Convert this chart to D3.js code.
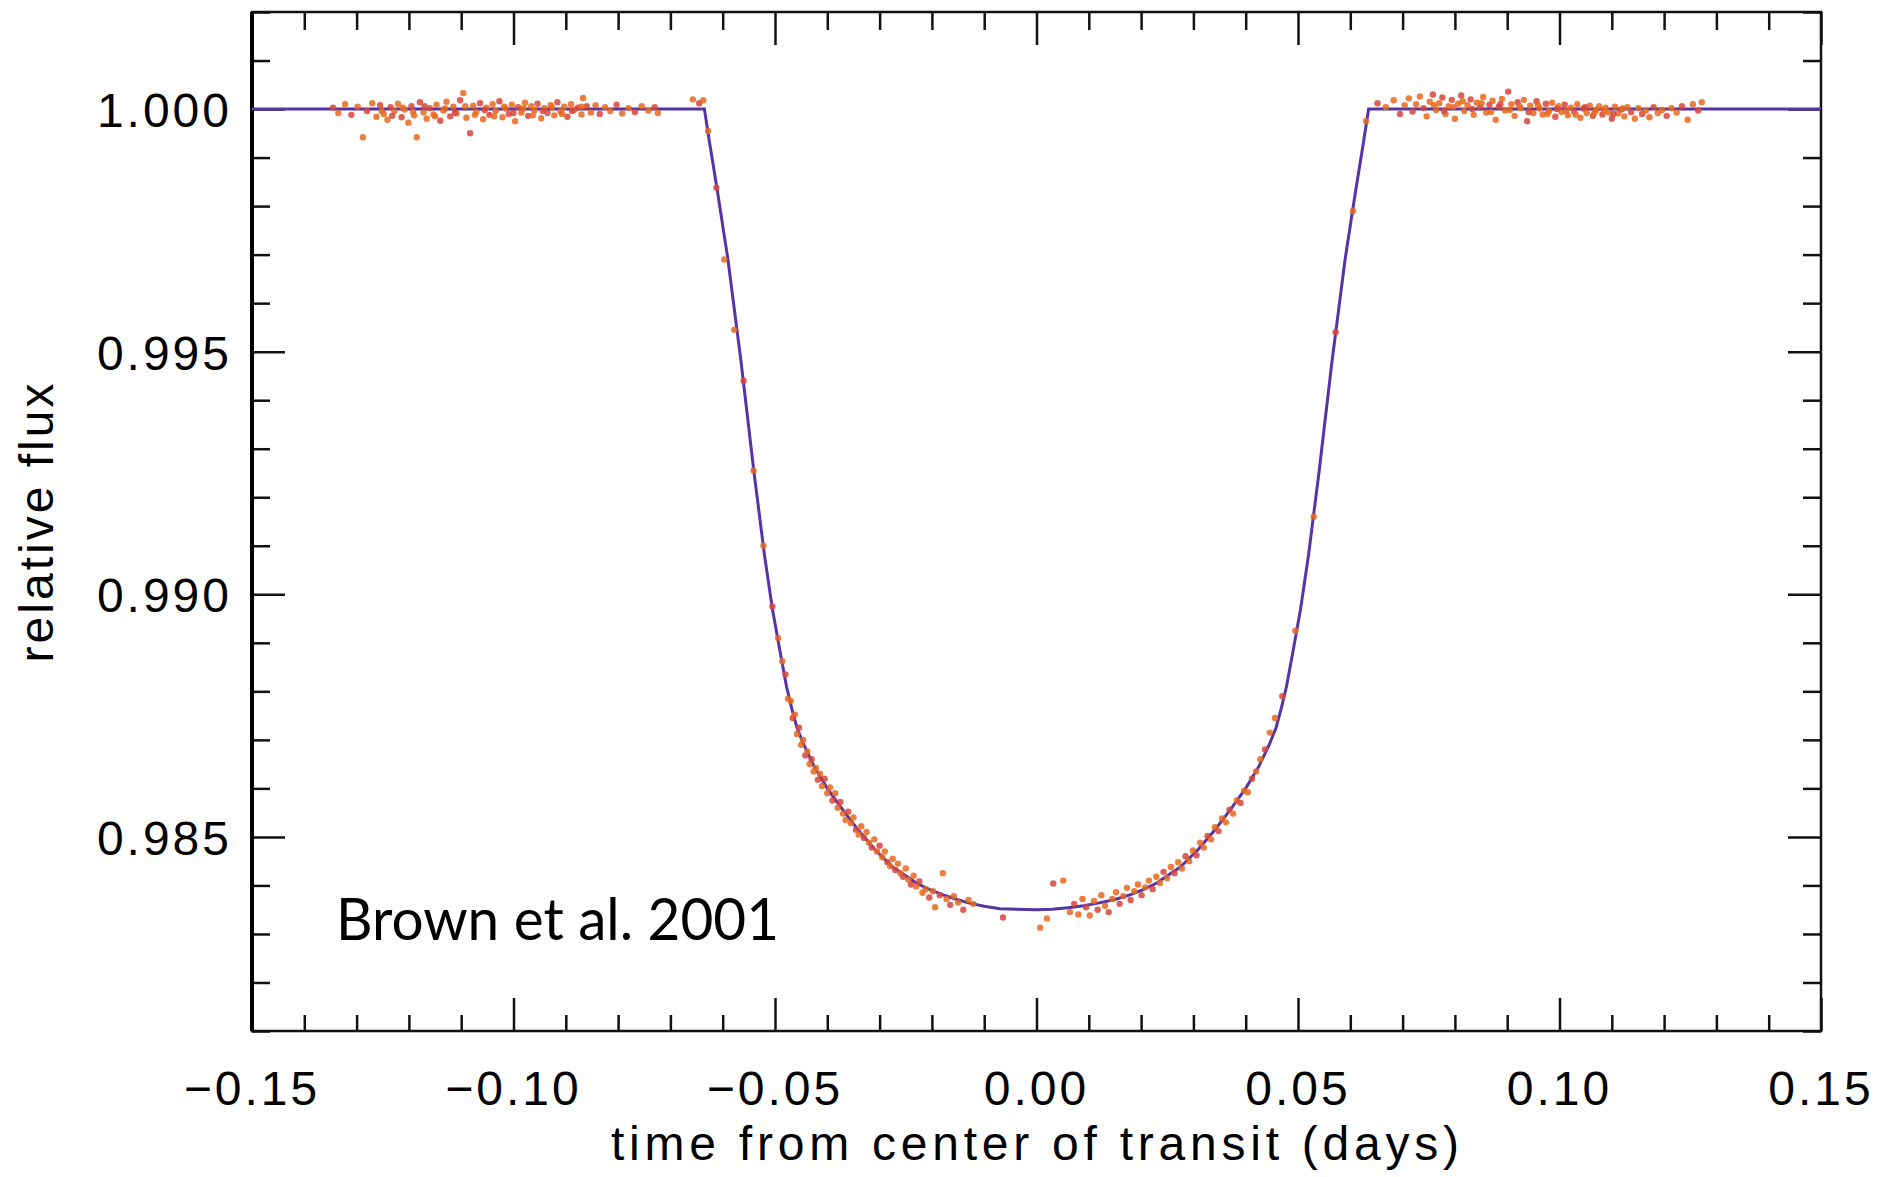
<!DOCTYPE html>
<html><head><meta charset="utf-8">
<script src="https://cdn.jsdelivr.net/npm/d3@7"></script>
<style>
html,body{margin:0;padding:0;background:#fff;}
svg{display:block;}
.tl{font-family:"Liberation Sans",Arial,sans-serif;font-size:48px;letter-spacing:3px;fill:#000;}
</style></head><body>
<svg id="c" width="1892" height="1177"></svg>
<script>
// ---------- data ----------
const xTickValues = [-0.15, -0.10, -0.05, 0.00, 0.05, 0.10, 0.15];
const xTickLabels = ["\u22120.15", "\u22120.10", "\u22120.05", "0.00", "0.05", "0.10", "0.15"];
const yTickValues = [1.000, 0.995, 0.990, 0.985];
const yTickLabels = ["1.000", "0.995", "0.990", "0.985"];
const xLabel = "time from center of transit (days)";
const yLabel = "relative flux";
const annotation = "Brown et al. 2001";

// model light curve (time, relative flux)
const modelTime = [-0.1500, -0.0635, -0.0625, -0.0610, -0.0590, -0.0565, -0.0540, -0.0520, -0.0505, -0.0490, -0.0478,
  -0.0468, -0.0458, -0.0445, -0.0425, -0.0400, -0.0370, -0.0340, -0.0310, -0.0275, -0.0250, -0.0230, -0.0205, -0.0180, -0.0155, -0.0130, -0.0100, -0.0070, 0.0000,
  0.0030, 0.0060, 0.0090, 0.0120, 0.0150, 0.0180, 0.0205, 0.0230, 0.0250, 0.0275, 0.0310, 0.0340, 0.0370, 0.0400, 0.0425, 0.0445, 0.0458, 0.0468,
  0.0478, 0.0490, 0.0505, 0.0520, 0.0540, 0.0565, 0.0590, 0.0610, 0.0625, 0.0635, 0.1500];
const modelFlux = [1.0000, 1.0000, 0.9993, 0.9983, 0.9969, 0.9948, 0.9925, 0.9908, 0.9897, 0.9888, 0.9881,
  0.98765, 0.98725, 0.98690, 0.98645, 0.98600, 0.98555, 0.98513, 0.98475, 0.98438, 0.98420, 0.98405, 0.98392, 0.98381, 0.98372, 0.98364, 0.98357, 0.98352, 0.98350,
  0.98351, 0.98354, 0.98358, 0.98364, 0.98371, 0.98381, 0.98392, 0.98405, 0.98420, 0.98438, 0.98475, 0.98513, 0.98555, 0.98600, 0.98645, 0.98690, 0.98725, 0.98765,
  0.9881, 0.9888, 0.9897, 0.9908, 0.9925, 0.9948, 0.9969, 0.9983, 0.9993, 1.0000, 1.0000];

// observed points [time, flux]
const preTransit = [
 [-0.1345,1.00003],[-0.1335,0.99992],[-0.1322,1.00010],[-0.1310,0.99988],[-0.1298,1.00005],[-0.1288,0.99942],
 [-0.1280,0.99996],[-0.1270,1.00012],[-0.1262,0.99984],[-0.1255,1.00008],[-0.1248,0.99990],[-0.1241,0.99978],
 [-0.1235,1.00004],[-0.1228,0.99995],[-0.1221,1.00011],[-0.1214,0.99983],[-0.1208,0.99999],[-0.1201,0.99972],
 [-0.1195,1.00006],[-0.1190,0.99987],[-0.1185,0.99942],[-0.1179,1.00014],[-0.1172,0.99993],[-0.1166,0.99980],
 [-0.1160,1.00002],[-0.1153,0.99989],[-0.1147,1.00009],[-0.1140,0.99976],[-0.1134,0.99997],[-0.1128,1.00015],
 [-0.1121,0.99985],[-0.1115,1.00005],[-0.1109,0.99991],[-0.1102,1.00018],[-0.1096,1.00033],[-0.1090,0.99982],
 [-0.1083,0.99950],[-0.1077,1.00007],[-0.1071,0.99994],[-0.1064,1.00012],[-0.1058,0.99979],[-0.1052,1.00003],
 [-0.1046,0.99988],[-0.1040,1.00010],[-0.1034,0.99996],[-0.1027,1.00016],[-0.1021,0.99983],[-0.1015,1.00001],
 [-0.1009,0.99990],[-0.1003,1.00009],[-0.0997,0.99975],[-0.0991,1.00004],[-0.0985,0.99993],[-0.0978,1.00013],
 [-0.0972,0.99986],[-0.0966,1.00006],[-0.0960,0.99997],[-0.0954,1.00011],[-0.0947,0.99981],[-0.0941,1.00002],
 [-0.0935,0.99992],[-0.0929,1.00008],[-0.0922,0.99987],[-0.0916,1.00014],[-0.0910,0.99995],[-0.0903,1.00005],
 [-0.0897,0.99984],[-0.0890,1.00010],[-0.0884,0.99998],[-0.0877,1.00003],[-0.0870,0.99989],[-0.0867,1.00023],
 [-0.0860,1.00006],[-0.0852,0.99993],[-0.0843,1.00008],[-0.0835,0.99990],[-0.0825,1.00004],[-0.0815,0.99996],
 [-0.0803,1.00009],[-0.0792,0.99991],[-0.0780,1.00002],[-0.0768,0.99994],[-0.0755,1.00006],[-0.0742,0.99997],
 [-0.0730,1.00004],[-0.0724,0.99992],[-0.0657,1.00020],[-0.0645,1.00012],[-0.0637,1.00018],
 [-0.1252,0.99996],[-0.1232,0.99986],[-0.1212,1.00003],[-0.1192,0.99994],[-0.1170,1.00006],[-0.1150,0.99985],
 [-0.1131,1.00001],[-0.1112,0.99993],[-0.1092,1.00006],[-0.1074,0.99988],[-0.1055,0.99998],[-0.1037,0.99985],
 [-0.1018,1.00005],[-0.1000,0.99992],[-0.0981,1.00001],[-0.0963,0.99987],[-0.0944,0.99996],[-0.0926,1.00003],
 [-0.0907,0.99990],[-0.0888,0.99996],[-0.0870,1.00005]
];
const inTransit = [
 [-0.0628,0.99955],[-0.0612,0.99838],[-0.0597,0.99690],[-0.0578,0.99545],[-0.0560,0.99440],[-0.0541,0.99255],
 [-0.0522,0.99100],[-0.0505,0.98975],[-0.0494,0.98910],
 [-0.0486,0.98862],[-0.0480,0.98835],[-0.0475,0.98785],[-0.0470,0.98780],[-0.0466,0.98745],[-0.0462,0.98752],
 [-0.0458,0.98712],[-0.0454,0.98725],[-0.0450,0.98690],[-0.0446,0.98700],[-0.0442,0.98668],[-0.0438,0.98676],
 [-0.0434,0.98650],[-0.0430,0.98660],[-0.0426,0.98635],[-0.0422,0.98642],[-0.0418,0.98618],[-0.0414,0.98630],
 [-0.0410,0.98605],[-0.0405,0.98620],[-0.0400,0.98590],[-0.0395,0.98602],[-0.0390,0.98575],[-0.0385,0.98590],
 [-0.0380,0.98560],[-0.0375,0.98572],[-0.0370,0.98548],[-0.0365,0.98535],[-0.0360,0.98552],[-0.0355,0.98528],
 [-0.0350,0.98540],[-0.0345,0.98515],[-0.0340,0.98505],[-0.0335,0.98522],[-0.0330,0.98498],[-0.0325,0.98510],
 [-0.0320,0.98488],[-0.0315,0.98478],[-0.0310,0.98495],[-0.0305,0.98470],[-0.0300,0.98482],[-0.0295,0.98458],
 [-0.0290,0.98470],[-0.0285,0.98448],[-0.0280,0.98440],[-0.0275,0.98455],[-0.0270,0.98432],[-0.0265,0.98445],
 [-0.0260,0.98425],[-0.0255,0.98418],[-0.0250,0.98435],[-0.0245,0.98412],[-0.0240,0.98402],[-0.0235,0.98420],
 [-0.0230,0.98398],[-0.0224,0.98408],[-0.0218,0.98385],[-0.0212,0.98392],[-0.0205,0.98375],[-0.0198,0.98388],
 [-0.0194,0.98355],[-0.0185,0.98380],[-0.0179,0.98425],[-0.0172,0.98372],[-0.0165,0.98360],[-0.0158,0.98378],
 [-0.0150,0.98365],[-0.0140,0.98350],[-0.0130,0.98370],[-0.0121,0.98362],[-0.0064,0.98334],
 [0.0007,0.98313],[0.0020,0.98332],[0.0032,0.98404],[0.0051,0.98410],[0.0064,0.98345],[0.0072,0.98362],
 [0.0080,0.98340],[0.0088,0.98372],[0.0095,0.98355],[0.0102,0.98338],[0.0110,0.98368],[0.0117,0.98350],
 [0.0124,0.98380],[0.0131,0.98358],[0.0138,0.98345],[0.0145,0.98372],[0.0152,0.98386],[0.0159,0.98362],
 [0.0166,0.98378],[0.0173,0.98395],[0.0180,0.98370],[0.0187,0.98388],[0.0194,0.98402],[0.0201,0.98380],
 [0.0208,0.98396],[0.0215,0.98410],[0.0222,0.98392],[0.0229,0.98418],[0.0236,0.98405],[0.0243,0.98428],
 [0.0250,0.98415],[0.0257,0.98438],[0.0264,0.98425],[0.0271,0.98448],[0.0278,0.98435],[0.0285,0.98460],
 [0.0292,0.98450],[0.0299,0.98472],[0.0306,0.98462],[0.0313,0.98488],[0.0320,0.98478],[0.0327,0.98502],
 [0.0334,0.98495],[0.0341,0.98520],[0.0348,0.98512],[0.0355,0.98538],[0.0362,0.98530],[0.0369,0.98556],
 [0.0376,0.98548],[0.0383,0.98575],[0.0390,0.98570],[0.0397,0.98595],[0.0404,0.98592],[0.0412,0.98620],
 [0.0420,0.98635],[0.0428,0.98660],[0.0437,0.98680],[0.0446,0.98715],[0.0456,0.98745],
 [0.0470,0.98790],[0.0495,0.98925],[0.0530,0.99160],[0.0572,0.99540],[0.0605,0.99790],[0.0630,0.99975]
];
const postTransit = [
 [0.0652,1.00012],[0.0668,1.00004],[0.0683,1.00018],[0.0695,0.99990],[0.0704,1.00008],[0.0712,1.00022],
 [0.0719,0.99995],[0.0726,1.00010],[0.0733,1.00026],[0.0740,1.00002],[0.0746,0.99985],[0.0752,1.00015],
 [0.0758,1.00030],[0.0764,0.99998],[0.0770,1.00012],[0.0776,1.00024],[0.0782,0.99990],[0.0788,1.00006],
 [0.0794,1.00019],[0.0800,0.99980],[0.0806,1.00011],[0.0812,1.00028],[0.0818,0.99996],[0.0824,1.00008],
 [0.0830,1.00020],[0.0836,0.99988],[0.0842,1.00013],[0.0848,1.00003],[0.0854,1.00025],[0.0860,0.99993],
 [0.0866,1.00009],[0.0872,1.00017],[0.0878,0.99978],[0.0884,1.00005],[0.0890,1.00021],[0.0896,0.99997],
 [0.0902,1.00036],[0.0908,1.00010],[0.0914,0.99986],[0.0920,1.00014],[0.0926,1.00002],[0.0932,1.00019],
 [0.0938,0.99975],[0.0944,1.00007],[0.0950,0.99992],[0.0956,1.00016],[0.0962,1.00001],[0.0968,0.99989],
 [0.0974,1.00011],[0.0980,0.99996],[0.0986,1.00013],[0.0992,0.99984],[0.0998,1.00006],[0.1004,0.99994],
 [0.1010,1.00009],[0.1016,0.99987],[0.1022,1.00003],[0.1028,0.99995],[0.1034,1.00010],[0.1040,0.99982],
 [0.1046,1.00001],[0.1052,0.99992],[0.1058,1.00007],[0.1064,0.99986],[0.1070,0.99998],[0.1076,1.00006],
 [0.1082,0.99989],[0.1088,1.00003],[0.1094,0.99993],[0.1100,0.99980],[0.1106,1.00005],[0.1112,0.99991],
 [0.1118,0.99999],[0.1124,0.99985],[0.1130,1.00004],[0.1137,0.99994],[0.1144,0.99980],[0.1151,1.00002],
 [0.1158,0.99990],[0.1165,0.99997],[0.1172,0.99983],[0.1180,1.00004],[0.1188,0.99992],[0.1196,0.99998],
 [0.1205,0.99986],[0.1214,1.00002],[0.1224,0.99993],[0.1234,1.00006],[0.1245,0.99978],[0.1255,1.00010],
 [0.1265,0.99997],[0.1272,1.00014],
 [0.0760,1.00008],[0.0779,0.99996],[0.0797,1.00004],[0.0815,1.00016],[0.0833,1.00000],[0.0851,1.00012],
 [0.0869,0.99994],[0.0887,1.00010],[0.0905,0.99998],[0.0923,1.00006],[0.0941,0.99994],[0.0959,1.00008],
 [0.0977,0.99990],[0.0995,1.00000],[0.1013,0.99996],[0.1031,0.99988],[0.1049,1.00004],[0.1067,0.99993],
 [0.1085,0.99997],[0.1103,0.99990],[0.1121,1.00001]
];

// ---------- layout ----------
const L = 252, R = 1821, T = 12, B = 1031;
const svg = d3.select("#c");
const x = d3.scaleLinear().domain([-0.15, 0.15]).range([L, R]);
const y = d3.scaleLinear().domain([0.981, 1.002]).range([B, T]);

const xMinor = d3.range(-15, 16).map(d => d / 100).filter(v => !xTickValues.some(m => Math.abs(m - v) < 1e-9));
const yMinor = d3.range(981, 1003).map(d => d / 1000).filter(v => !yTickValues.some(m => Math.abs(m - v) < 1e-9));

const tickStyle = g => { g.select(".domain").remove(); g.selectAll("line").attr("stroke", "#111").attr("stroke-width", 2.5); g.selectAll("text").remove(); };

// ticks (inward) bottom / top
svg.append("g").attr("transform", `translate(0,${B})`).call(d3.axisBottom(x).tickValues(xMinor).tickSize(-16).tickFormat("")).call(tickStyle);
svg.append("g").attr("transform", `translate(0,${B})`).call(d3.axisBottom(x).tickValues(xTickValues).tickSize(-33).tickFormat("")).call(tickStyle);
svg.append("g").attr("transform", `translate(0,${T})`).call(d3.axisTop(x).tickValues(xMinor).tickSize(-18).tickFormat("")).call(tickStyle);
svg.append("g").attr("transform", `translate(0,${T})`).call(d3.axisTop(x).tickValues(xTickValues).tickSize(-33).tickFormat("")).call(tickStyle);
// left / right
svg.append("g").attr("transform", `translate(${L},0)`).call(d3.axisLeft(y).tickValues(yMinor).tickSize(-18).tickFormat("")).call(tickStyle);
svg.append("g").attr("transform", `translate(${L},0)`).call(d3.axisLeft(y).tickValues(yTickValues).tickSize(-33).tickFormat("")).call(tickStyle);
svg.append("g").attr("transform", `translate(${R},0)`).call(d3.axisRight(y).tickValues(yMinor).tickSize(-18).tickFormat("")).call(tickStyle);
svg.append("g").attr("transform", `translate(${R},0)`).call(d3.axisRight(y).tickValues(yTickValues).tickSize(-33).tickFormat("")).call(tickStyle);

// frame
svg.append("rect").attr("x", L).attr("y", T).attr("width", R - L).attr("height", B - T)
  .attr("fill", "none").attr("stroke", "#111").attr("stroke-width", 2.5);
svg.append("line").attr("x1", L).attr("x2", L).attr("y1", T).attr("y2", B).attr("stroke", "#000").attr("stroke-width", 4);

// tick labels
svg.append("g").selectAll("text").data(xTickValues).join("text").attr("class", "tl")
  .attr("x", d => x(d)).attr("y", 1105).attr("text-anchor", "middle").text((d, i) => xTickLabels[i]);
svg.append("g").selectAll("text").data(yTickValues).join("text").attr("class", "tl")
  .attr("x", 232).attr("y", d => y(d) + 18).attr("text-anchor", "end").text((d, i) => yTickLabels[i]);

// axis titles
svg.append("text").attr("class", "tl").attr("x", (L + R) / 2).attr("y", 1160).attr("text-anchor", "middle")
  .attr("textLength", 851).attr("lengthAdjust", "spacing").text(xLabel);
svg.append("text").attr("class", "tl").attr("transform", `translate(53,${(T + B) / 2}) rotate(-90)`).attr("text-anchor", "middle").text(yLabel);

// model line
const line = d3.line().x(d => x(d)).y((d, i) => y(modelFlux[i]));
svg.append("path").attr("d", line(modelTime)).attr("fill", "none").attr("stroke", "#5534a8").attr("stroke-width", 3);

// data points
const allPts = preTransit.concat(inTransit, postTransit);
svg.append("g").selectAll("circle").data(allPts).join("circle")
  .attr("cx", d => x(d[0])).attr("cy", d => y(d[1])).attr("r", 3.2)
  .attr("fill", (d, i) => i % 3 === 0 ? "#d8453c" : "#e8691e").attr("fill-opacity", 0.85);

// annotation
svg.append("text").attr("x", 336).attr("y", 940).attr("font-family", "Lato, 'Open Sans', sans-serif")
  .attr("font-size", 58).attr("fill", "#000").attr("textLength", 443).attr("lengthAdjust", "spacingAndGlyphs").text(annotation);
</script>
</body></html>
